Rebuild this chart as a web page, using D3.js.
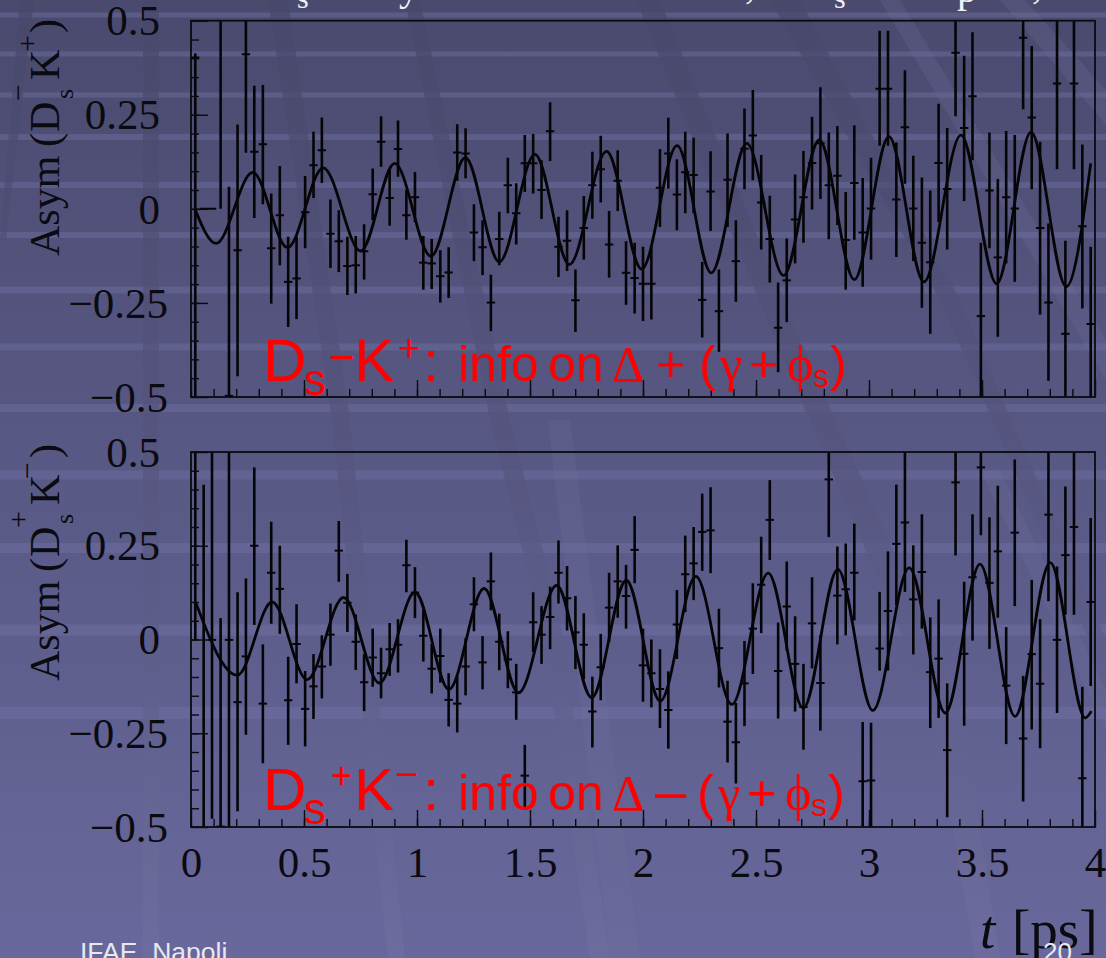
<!DOCTYPE html>
<html>
<head>
<meta charset="utf-8">
<script src="https://cdn.jsdelivr.net/npm/d3@7"></script>
<style>
  html, body { margin: 0; padding: 0; overflow: hidden; background: #56568a; }
  svg { display: block; }
</style>
</head>
<body>
<svg id="chart" width="1106" height="958"></svg>
<script>
// bin centres in ps
const binTimes = [.019,.056,.093,.131,.168,.206,.243,.280,.318,.355,.393,.430,.467,.505,.542,.579,.617,.654,.692,.729,.766,.804,.841,.879,.916,.953,.991,1.028,1.065,1.103,1.140,1.178,1.215,1.252,1.290,1.327,1.364,1.402,1.439,1.477,1.514,1.551,1.589,1.626,1.664,1.701,1.738,1.776,1.813,1.850,1.888,1.925,1.963,2.000,2.037,2.075,2.112,2.150,2.187,2.224,2.262,2.299,2.336,2.374,2.411,2.449,2.486,2.523,2.561,2.598,2.636,2.673,2.710,2.748,2.785,2.822,2.860,2.897,2.935,2.972,3.009,3.047,3.084,3.121,3.159,3.196,3.234,3.271,3.308,3.346,3.383,3.421,3.458,3.495,3.533,3.570,3.607,3.645,3.682,3.720,3.757,3.794,3.832,3.869,3.907,3.944,3.981];

// upper panel, Ds- K+
const topAsym = [.402,0,0,.62,-.497,-.110,.411,.152,.172,-.105,-.017,-.194,-.185,-.009,.116,.156,-.066,-.086,-.152,-.150,-.113,.039,.178,.029,.159,-.017,.031,-.143,-.145,-.179,-.169,.150,.147,-.063,-.102,-.249,-.080,.063,-.012,.121,.121,.050,.206,-.101,-.085,-.243,-.051,.063,.105,-.095,.075,-.170,-.184,-.199,-.199,.056,.147,.038,.097,.090,-.242,.046,-.272,.077,-.139,.160,.195,.017,-.080,-.316,-.190,-.028,.031,.122,.174,.063,.088,-.083,.069,-.063,.001,.319,.319,.025,.217,.001,-.090,-.142,.122,.053,.415,.215,.299,-.285,.049,-.129,.031,.001,.455,.243,-.051,-.249,.333,-.332,.333,-.046,-.306];
const topLow = [-.6,0,0,0,-.9,-.445,.149,-.024,.012,-.252,-.150,-.314,-.293,-.105,.029,.069,-.157,-.168,-.229,-.225,-.188,-.030,.112,-.045,.085,-.082,-.035,-.215,-.213,-.249,-.237,.075,.081,-.139,-.176,-.325,-.150,-.012,-.095,.045,.041,-.027,.127,-.181,-.165,-.327,-.135,-.026,.017,-.183,-.006,-.255,-.278,-.298,-.294,-.048,.054,-.057,-.012,-.012,-.342,-.059,-.380,-.048,-.247,.052,.076,-.108,-.196,-.434,-.301,-.145,-.090,-.002,.026,-.081,-.043,-.215,-.082,-.207,-.135,.168,.168,-.128,.067,-.139,-.263,-.332,-.035,-.108,.246,.021,.129,-.6,-.105,-.340,-.145,-.194,.265,.052,-.281,-.457,.105,-.6,.105,-.265,-.6];
const topHigh = [.413,0,0,.62,.059,.224,.62,.327,.329,.041,.114,-.074,-.074,.087,.205,.243,.025,-.004,-.074,-.072,-.041,.107,.246,.103,.235,.050,.098,-.072,-.080,-.110,-.102,.225,.214,.012,-.030,-.175,-.008,.136,.068,.196,.199,.129,.283,-.021,-.004,-.161,.034,.152,.194,-.006,.156,-.086,-.090,-.101,-.101,.159,.242,.132,.205,.189,-.141,.153,-.161,.200,-.030,.267,.316,.143,.035,-.196,-.079,.091,.154,.245,.323,.203,.220,.045,.222,.082,.136,.473,.473,.176,.368,.141,.083,.049,.279,.215,.62,.407,.469,-.090,.203,.079,.207,.196,.62,.433,.178,-.039,.62,-.085,.62,.171,-.101];
const topCurveT = [.017,.111,.273,.427,.585,.751,.901,1.062,1.214,1.364,1.522,1.674,1.839,1.994,2.151,2.302,2.459,2.622,2.780,2.935,3.088,3.243,3.407,3.565,3.717,3.873,3.981];
const topCurveA = [0,-.092,.097,-.103,.109,-.112,.121,-.126,.136,-.141,.145,-.148,.153,-.160,.168,-.170,.174,-.177,.183,-.188,.192,-.194,.196,-.199,.204,-.207,.121];

// lower panel, Ds+ K-
const botAsym = [.6,-.6,-.001,-.499,-.001,-.167,-.045,.250,-.171,.178,.135,-.162,-.012,-.185,-.125,-.072,.013,.237,.098,-.006,-.114,-.048,-.090,-.026,-.014,.198,.125,.010,-.078,-.044,-.161,-.171,-.072,.094,-.061,.155,-.006,-.053,-.141,-.363,.046,.013,.060,.178,.110,.019,-.014,-.192,-.074,.085,.155,.116,.239,-.069,-.090,-.132,-.188,.040,.174,.203,.287,.291,-.023,-.219,-.274,-.117,.029,.146,.319,-.084,.088,-.065,-.180,.043,-.116,.427,.117,.134,.178,-.378,-.376,-.024,.076,.255,.312,.107,.180,-.087,-.051,-.295,.419,-.038,.166,.459,.151,.235,-.123,.285,-.264,-.039,-.118,.333,-.001,.225,.300,-.370,.100];
const botLow = [0,-.6,-.478,-.6,-.6,-.458,-.254,.039,-.330,.042,.015,-.281,-.117,-.285,-.212,-.157,-.070,.154,.020,-.081,-.191,-.126,-.157,-.097,-.088,.126,.057,-.059,-.144,-.115,-.232,-.248,-.149,.022,-.133,.078,-.082,-.130,-.214,-.447,-.034,-.065,-.026,.096,.024,-.079,-.106,-.288,-.162,-.007,.058,.029,.150,-.166,-.181,-.236,-.291,-.052,.073,.105,.183,.177,-.128,-.328,-.384,-.231,-.092,.017,.212,-.211,-.030,-.192,-.294,-.077,-.243,.273,-.013,.011,.051,-.6,-.6,-.083,-.083,.091,.127,-.040,.029,-.236,-.209,-.474,.224,-.230,-.003,.278,-.025,.058,-.279,.089,-.432,-.240,-.290,.102,-.196,.066,.066,-.6,-.124];
const botHigh = [.62,.413,.62,.057,.62,.126,.163,.459,-.013,.314,.250,-.046,.094,-.084,-.039,.011,.096,.316,.175,.067,-.039,.029,-.022,.044,.054,.266,.193,.078,-.012,.029,-.090,-.097,.004,.166,.009,.232,.069,.022,-.065,-.281,.126,.089,.141,.264,.196,.116,.070,-.099,.015,.178,.251,.199,.329,.029,0,-.026,-.085,.132,.277,.300,.389,.406,.082,-.110,-.169,-.004,.150,.274,.425,.045,.208,.062,-.065,.166,.011,.62,.248,.256,.309,-.220,-.222,.127,.235,.413,.62,.251,.334,.059,.107,-.117,.62,.154,.334,.62,.326,.410,.033,.480,-.097,.159,.054,.62,.195,.408,.62,-.126,.324];
const botCurveT = [.020,.205,.359,.514,.675,.834,.991,1.141,1.297,1.449,1.618,1.773,1.926,2.076,2.234,2.393,2.554,2.709,2.862,3.017,3.178,3.338,3.491,3.646,3.802,3.957,3.984];
const botCurveA = [.100,-.095,.100,-.107,.112,-.116,.126,-.133,.136,-.142,.144,-.155,.158,-.164,.168,-.173,.177,-.183,.187,-.189,.191,-.196,.201,-.205,.205,-.209,-.191];

const xMajor = [0, .5, 1, 1.5, 2, 2.5, 3, 3.5, 4];
const xMinor = d3.range(1, 40).map(d => d / 10);
const yMajor = [-.5, -.25, 0, .25, .5];
const yMinor = d3.range(-9, 10).map(d => d * .05);

const svg = d3.select("#chart");
const defs = svg.append("defs");

// slide background
const grad = defs.append("linearGradient").attr("id", "bg").attr("x1", 0).attr("x2", 0).attr("y1", 0).attr("y2", 1);
grad.append("stop").attr("offset", 0).attr("stop-color", "#4a4a6f");
grad.append("stop").attr("offset", 1).attr("stop-color", "#68689c");
svg.append("rect").attr("width", 1106).attr("height", 958).attr("fill", "url(#bg)");

const bandY = [15, 54, 95, 137, 185, 235, 290, 347, 408, 475, 548, 630, 713];
const bandH = [5, 5, 5, 6, 6, 6, 7, 7, 8, 9, 10, 11, 12];
bandY.forEach((y, i) => {
  svg.append("rect").attr("x", 0).attr("y", y - bandH[i] / 2).attr("width", 1106).attr("height", bandH[i])
    .attr("fill", "#7272a6").attr("opacity", .42);
});

// diagonal streaks, darker than the slide up top and lighter further down
const streakGrad = defs.append("linearGradient").attr("id", "streak")
  .attr("gradientUnits", "userSpaceOnUse").attr("x1", 0).attr("x2", 0).attr("y1", 0).attr("y2", 958);
streakGrad.append("stop").attr("offset", 0).attr("stop-color", "#47476a");
streakGrad.append("stop").attr("offset", .5).attr("stop-color", "#55557f");
streakGrad.append("stop").attr("offset", 1).attr("stop-color", "#6e6ea0");

const darkStripes = [
  "M143,0 L159,0 L159,958 L143,958 Z",
  "M268,0 L288,0 L350,420 L405,958 L388,958 L332,420 Z",
  "M405,0 L420,0 L510,420 L560,620 L610,958 L590,958 L540,620 L490,420 Z",
  "M636,0 L660,0 L800,340 L960,700 L1000,958 L975,958 L930,700 L775,340 Z",
  "M20,0 L34,0 L6,240 L0,240 Z",
  "M770,0 L800,0 L960,300 L1106,640 L1106,680 L940,300 Z"
];
const lightStripes = [
  "M880,0 L900,0 L1106,340 L1106,380 Z",
  "M1000,0 L1025,0 L1106,90 L1106,125 Z",
  "M548,420 L570,420 L640,958 L610,958 Z",
  "M980,470 L1000,470 L1106,690 L1106,730 Z"
];
svg.selectAll("path.dark").data(darkStripes).join("path").attr("class", "dark").attr("d", d => d)
  .attr("fill", "url(#streak)").attr("opacity", .7);
svg.selectAll("path.light").data(lightStripes).join("path").attr("class", "light").attr("d", d => d)
  .attr("fill", "#7070a0").attr("opacity", .22);

// pieces of the slide title cut off by the crop
const titleBits = [["s", 297, 8, 30], ["y", 399, 0, 40], [",", 745, -2, 40], ["s", 834, 8, 30], ["p", 957, 2, 40], [",", 1032, -2, 40]];
svg.selectAll("text.title").data(titleBits).join("text").attr("class", "title")
  .attr("x", d => d[1]).attr("y", d => d[2]).attr("font-size", d => d[3])
  .attr("font-family", "'Liberation Serif'").attr("fill", "#f0f0f5").text(d => d[0]);

const serif = "'Liberation Serif'";
const sans = "'Liberation Sans'";
const x = d3.scaleLinear().domain([0, 4]).range([191, 1095]);

function drawPanel(id, top, bottom, asym, low, high, curveT, curveA) {
  const y = d3.scaleLinear().domain([-.5, .5]).range([bottom, top]);
  const g = svg.append("g");

  defs.append("clipPath").attr("id", id).append("rect")
    .attr("x", 191).attr("y", top).attr("width", 904).attr("height", bottom - top);
  const marks = g.append("g").attr("clip-path", `url(#${id})`);

  marks.selectAll("line.err").data(binTimes).join("line").attr("class", "err")
    .attr("x1", d => x(d)).attr("x2", d => x(d))
    .attr("y1", (d, i) => y(low[i])).attr("y2", (d, i) => y(high[i]))
    .attr("stroke", "#050508").attr("stroke-width", 2.6);
  marks.selectAll("line.cap").data(binTimes).join("line").attr("class", "cap")
    .attr("x1", d => x(d) - 4.2).attr("x2", d => x(d) + 4.2)
    .attr("y1", (d, i) => y(asym[i])).attr("y2", (d, i) => y(asym[i]))
    .attr("stroke", "#050508").attr("stroke-width", 2);

  const line = d3.line().x(d => x(d[0])).y(d => y(d[1])).curve(d3.curveMonotoneX);
  marks.append("path").datum(d3.zip(curveT, curveA)).attr("d", line)
    .attr("fill", "none").attr("stroke", "#050508").attr("stroke-width", 2.8);

  // minor and major ticks point into the frame
  g.append("g").attr("transform", `translate(0,${bottom})`)
    .call(d3.axisBottom(x).tickValues(xMinor).tickSize(-8).tickFormat(""));
  g.append("g").attr("transform", `translate(0,${bottom})`)
    .call(d3.axisBottom(x).tickValues(xMajor).tickSize(-17).tickFormat(""));
  g.append("g").attr("transform", "translate(191,0)")
    .call(d3.axisLeft(y).tickValues(yMinor).tickSize(-8).tickFormat(""));
  const yAxis = g.append("g").attr("transform", "translate(191,0)")
    .call(d3.axisLeft(y).tickValues(yMajor).tickSize(-17)
      .tickFormat(d => String(d).replace("-", "\u2212")));
  yAxis.selectAll("text")
    .attr("font-family", serif).attr("font-size", 43).attr("fill", "#0a0a10")
    .attr("text-anchor", "end").attr("dy", "0.33em")
    .attr("x", d => d < 0 ? -23 : -31);

  g.selectAll(".domain").remove();
  g.selectAll(".tick line").attr("stroke", "#0a0a10").attr("stroke-width", 1.4);
  g.append("rect").attr("x", 191).attr("y", top).attr("width", 904).attr("height", bottom - top)
    .attr("fill", "none").attr("stroke", "#0a0a10").attr("stroke-width", 1.8);
  return g;
}

drawPanel("clipTop", 20.7, 397, topAsym, topLow, topHigh, topCurveT, topCurveA);
const lowerPanel = drawPanel("clipBot", 452, 827, botAsym, botLow, botHigh, botCurveT, botCurveA);

// x labels only under the lower panel
const xLabels = lowerPanel.append("g").attr("transform", "translate(0,827)")
  .call(d3.axisBottom(x).tickValues(xMajor).tickSize(0).tickPadding(0).tickFormat(d => String(d)));
xLabels.select(".domain").remove();
xLabels.selectAll("text").attr("font-family", serif).attr("font-size", 43).attr("fill", "#0a0a10")
  .attr("y", 50).attr("dy", 0);

// rotated y titles: [text, distance up from start, x, size]
function yTitle(parts, startY) {
  svg.selectAll(null).data(parts).join("text")
    .attr("transform", d => `translate(${d[2]},${startY - d[1]}) rotate(-90)`)
    .attr("font-family", serif).attr("font-size", d => d[3]).attr("fill", "#0a0a10").text(d => d[0]);
}
yTitle([["Asym", 0, 59, 42], ["(", 109, 59, 42], ["D", 124, 59, 42], ["s", 157, 73, 26], ["\u2212", 155, 28, 30], ["K", 176, 59, 42], ["+", 204, 37, 30], [")", 223, 59, 42]], 256);
yTitle([["Asym", 0, 59, 42], ["(", 109, 59, 42], ["D", 124, 59, 42], ["s", 157, 73, 26], ["+", 153, 28, 30], ["K", 176, 59, 42], ["\u2212", 202, 37, 30], [")", 223, 59, 42]], 681);

// axis title
svg.append("text").attr("x", 1097).attr("y", 948).attr("text-anchor", "end")
  .attr("font-family", serif).attr("font-size", 55).attr("fill", "#0a0a10")
  .html('<tspan font-style="italic" x="980">t</tspan><tspan x="1012">[ps]</tspan>')
  .attr("text-anchor", "start");

// red annotation pieces: [text, x, size, raise, family]
function note(baseline, parts) {
  svg.selectAll(null).data(parts).join("text")
    .attr("x", d => d[1]).attr("y", d => baseline - (d[3] || 0))
    .attr("font-size", d => d[2]).attr("font-family", d => d[4] || sans)
    .attr("fill", "#ff0000").text(d => d[0]);
}
const noteTail = [
  [":", 423, 58], ["info", 458, 50], ["on", 548, 50], ["\u0394", 612, 50, 0, serif]
];
note(381, noteTail.concat([
  ["D", 263, 60], ["s", 304, 44, -14], ["\u2212", 329, 44, 9], ["K", 354, 60], ["+", 398, 38, 20],
  ["+", 656, 50], ["(", 699, 50], ["\u03b3", 720, 50, 0, serif], ["+", 749, 50],
  ["\u03d5", 787, 50, 0, serif], ["s", 813, 32, -6], [")", 830, 50]
]));
note(810, noteTail.concat([
  ["D", 263, 60], ["s", 304, 44, -14], ["+", 331, 36, 22], ["K", 354, 60], ["\u2212", 395, 40, 22],
  ["\u2013", 655, 56], ["(", 697, 50], ["\u03b3", 718, 50, 0, serif], ["+", 747, 50],
  ["\u03d5", 785, 50, 0, serif], ["s", 811, 32, -6], [")", 828, 50]
]));

// slide footer, cropped by the window
svg.append("text").attr("x", 80).attr("y", 961).attr("font-family", sans).attr("font-size", 26.5)
  .attr("fill", "#e8e8f0").attr("xml:space", "preserve").text("IFAE  Napoli");
svg.append("text").attr("x", 1043).attr("y", 961).attr("font-family", sans).attr("font-size", 26)
  .attr("fill", "#e8e8f0").text("20");
</script>
</body>
</html>
